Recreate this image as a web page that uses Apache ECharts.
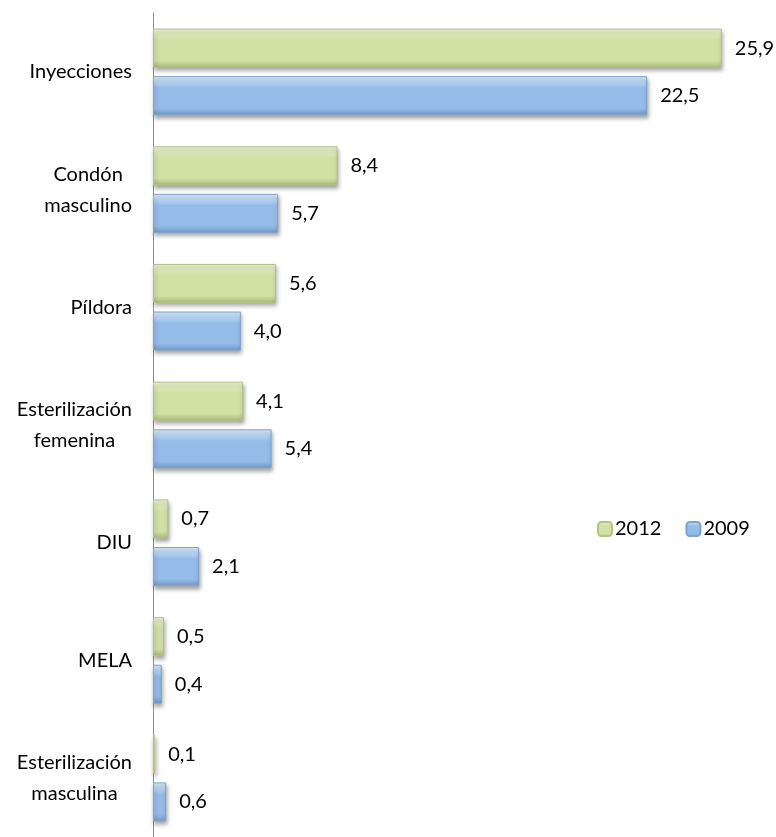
<!DOCTYPE html>
<html>
<head>
<meta charset="utf-8">
<script src="https://cdn.jsdelivr.net/npm/echarts@6/dist/echarts.min.js"></script>
<style>
html,body{margin:0;padding:0;background:#fff;}
#c{width:776px;height:837px;}
</style>
</head>
<body>
<div id="c"></div>
<script>
const categories = ['Inyecciones', 'Condón\nmasculino', 'Píldora', 'Esterilización\nfemenina', 'DIU', 'MELA', 'Esterilización\nmasculina'];
const seriesNames = ['2012', '2009'];
const values2012 = [25.9, 8.4, 5.6, 4.1, 0.7, 0.5, 0.1];
const values2009 = [22.5, 5.7, 4.0, 5.4, 2.1, 0.4, 0.6];

const FONT = 'Lato';
const FS = 20;
function grad(top, light, main, dark) {
  return new echarts.graphic.LinearGradient(0, 0, 0, 1, [
    {offset: 0, color: top},
    {offset: 0.12, color: light},
    {offset: 0.3, color: main},
    {offset: 0.82, color: main},
    {offset: 1, color: dark}
  ]);
}
const greenStyle = {
  color: grad('#eef4d8', '#e2ecc0', '#d1e0a3', '#a9b97c'),
  borderColor: '#b3c385', borderWidth: 1,
  shadowColor: 'rgba(0,0,0,0.35)', shadowBlur: 4, shadowOffsetY: 3, shadowOffsetX: 1
};
const blueStyle = {
  color: grad('#dcecfb', '#c2dbf5', '#95bce9', '#7397c6'),
  borderColor: '#7fa3d0', borderWidth: 1,
  shadowColor: 'rgba(0,0,0,0.35)', shadowBlur: 4, shadowOffsetY: 3, shadowOffsetX: 1
};
const fmt = p => p.value.toFixed(1).replace('.', ',');
const labelCfg = {show: true, position: 'right', distance: 13, color: '#000', fontSize: FS, fontFamily: FONT, formatter: fmt};

const chart = echarts.init(document.getElementById('c'), null, {renderer: 'canvas'});
chart.setOption({
  animation: false,
  backgroundColor: '#fff',
  grid: {left: 153, top: 13, width: 571, height: 832},
  legend: {
    data: seriesNames,
    left: 592, top: 514,
    itemWidth: 14, itemHeight: 14, itemGap: 24,
    textStyle: {fontSize: FS, fontFamily: FONT, color: '#000', padding: [0, 0, 0, -2]}
  },
  xAxis: {type: 'value', min: 0, max: 26, show: false},
  yAxis: {
    type: 'category', data: categories, inverse: true,
    axisLine: {show: true, lineStyle: {color: '#8c8c8c', width: 1}},
    axisTick: {show: false},
    axisLabel: {
      margin: 21, align: 'right', color: '#000', fontSize: FS, fontFamily: FONT, lineHeight: 31,
      formatter: v => v.split('\n').map(s => '{c|' + s + '}').join('\n'),
      rich: {c: {align: 'center', fontSize: FS, fontFamily: FONT, color: '#000', lineHeight: 31}}
    }
  },
  series: [
    {name: seriesNames[0], type: 'bar', data: values2012, barWidth: 39, barGap: '22%', itemStyle: greenStyle, label: labelCfg},
    {name: seriesNames[1], type: 'bar', data: values2009, barWidth: 39, barGap: '22%', itemStyle: blueStyle, label: labelCfg}
  ]
});
</script>
</body>
</html>
